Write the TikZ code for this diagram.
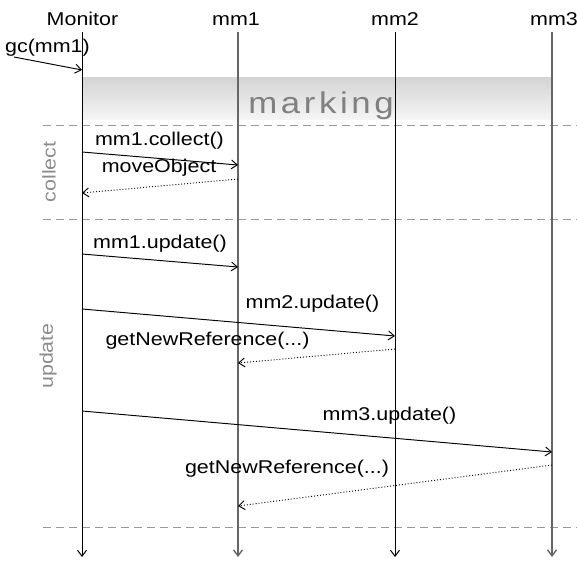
\documentclass[tikz,border=0pt]{standalone}
\usepackage{fontspec}
\setmainfont[FakeStretch=1.16]{Liberation Sans}
\newfontfamily\markfont[FakeStretch=1.16, LetterSpace=12]{Liberation Sans}
\usetikzlibrary{arrows.meta}
\begin{document}
\begin{tikzpicture}[x=1pt,y=-1pt,
  every node/.style={font=\fontsize{18.5}{20}\selectfont, inner sep=0pt},
  lbl/.style={anchor=base},
  tip/.style={-{Straight Barb[length=6pt,width=9pt]}},
  msg/.style={draw=black, line width=0.95pt, tip},
  ret/.style={draw=black, dotted, line width=0.95pt, tip},
  life/.style={draw=black, line width=1pt, tip},
  lifegray/.style={draw=black!60, line width=1.4pt, tip},
  sep/.style={draw=black!40, dash pattern=on 8pt off 5pt, line width=0.9pt},
  phase/.style={text=black!45, rotate=90},
  markbox/.style={top color=black!17, bottom color=black!4, draw=none, minimum width=470pt, minimum height=42pt}
]
\useasboundingbox (0,0) rectangle (577,560);
% marking band
\node[markbox] (mark) at (317,98) {};
\node[lbl, text=black!50, font=\markfont\fontsize{30}{32}\selectfont] (marktext) at (321,113) {marking};
% separators
\coordinate (s1a) at (43,125); \coordinate (s1b) at (577,125);
\coordinate (s2a) at (43,219); \coordinate (s2b) at (577,219);
\coordinate (s3a) at (43,527); \coordinate (s3b) at (577,527);
\draw[sep] (s1a) -- (s1b);
\draw[sep] (s2a) -- (s2b);
\draw[sep] (s3a) -- (s3b);
% phase labels
\node[phase] (collect) at (49,172) {collect};
\node[phase] (update) at (48,356) {update};
% headers
\node[lbl] (mon) at (82.5,25) {Monitor};
\node[lbl] (mm1) at (236,25) {mm1};
\node[lbl] (mm2) at (395,25) {mm2};
\node[lbl] (mm3) at (554,25) {mm3};
% lifelines
\coordinate (monT) at (82,32);  \coordinate (monB) at (82,557);
\coordinate (mm1T) at (238,32); \coordinate (mm1B) at (238,557);
\coordinate (mm2T) at (395,32); \coordinate (mm2B) at (395,557);
\coordinate (mm3T) at (552,32); \coordinate (mm3B) at (552,557);
\draw[life] (monT) -- (monB);
\draw[lifegray] (mm1T) -- (mm1B);
\draw[life] (mm2T) -- (mm2B);
\draw[lifegray] (mm3T) -- (mm3B);
% gc
\node[lbl] (gc) at (47.5,52) {gc(mm1)};
\coordinate (gcS) at (14,57); \coordinate (gcE) at (82,70);
\draw[msg] (gcS) -- (gcE);
% collect phase
\node[lbl] (l1) at (159.5,145) {mm1.collect()};
\coordinate (a1s) at (82,152); \coordinate (a1e) at (238,165);
\draw[msg] (a1s) -- (a1e);
\node[lbl] (l2) at (159,172) {moveObject};
\coordinate (a2s) at (238,179); \coordinate (a2e) at (82,193);
\draw[ret] (a2s) -- (a2e);
% update phase
\node[lbl] (l3) at (160,248) {mm1.update()};
\coordinate (a3s) at (82,254); \coordinate (a3e) at (238,267);
\draw[msg] (a3s) -- (a3e);
\node[lbl] (l4) at (312.5,308) {mm2.update()};
\coordinate (a4s) at (82,309); \coordinate (a4e) at (395,336);
\draw[msg] (a4s) -- (a4e);
\node[lbl] (l5) at (207.5,345) {getNewReference(...)};
\coordinate (a5s) at (395,349); \coordinate (a5e) at (238,363);
\draw[ret] (a5s) -- (a5e);
\node[lbl] (l6) at (389.5,420) {mm3.update()};
\coordinate (a6s) at (82,411); \coordinate (a6e) at (552,452);
\draw[msg] (a6s) -- (a6e);
\node[lbl] (l7) at (287,473) {getNewReference(...)};
\coordinate (a7s) at (552,465); \coordinate (a7e) at (238,506);
\draw[ret] (a7s) -- (a7e);
\end{tikzpicture}
\end{document}
